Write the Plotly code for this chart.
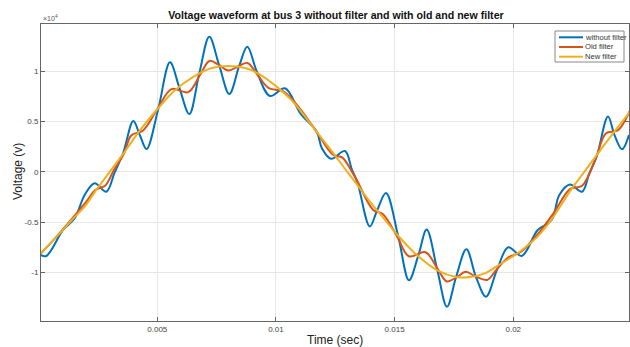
import plotly.graph_objects as go

# ---- data (time in s, voltage in units of 1e4 V as labelled on the axis) ----
t_without = [0.000087, 0.000323, 0.00103, 0.00152, 0.00194, 0.00236, 0.00285, 0.00320, 0.00356,
             0.00399, 0.00427, 0.004545, 0.00504, 0.005535, 0.005935, 0.006348, 0.00677, 0.007191,
             0.007612, 0.008034, 0.008455, 0.008792, 0.009201, 0.009749, 0.010381, 0.01103, 0.011716,
             0.01194, 0.012319, 0.012909, 0.01320, 0.013435, 0.013954, 0.01427, 0.014636, 0.015155,
             0.015605, 0.015997, 0.016351, 0.016798, 0.017207, 0.017586, 0.018024, 0.018429, 0.018850,
             0.019313, 0.019789, 0.020354, 0.02103, 0.021618, 0.02194, 0.022389, 0.022895, 0.02320,
             0.023514, 0.023991, 0.02427, 0.02458, 0.024875]
v_without = [-0.827, -0.837, -0.579, -0.463, -0.231, -0.115, -0.199, -0.01, 0.183,
             0.503, 0.36, 0.225, 0.623, 1.086, 0.831, 0.573, 0.977, 1.341,
             1.053, 0.772, 1.053, 1.241, 0.990, 0.752, 0.828, 0.579, 0.397,
             0.231, 0.128, 0.206, 0.02, -0.107, -0.544, -0.38, -0.212, -0.645,
             -1.078, -0.834, -0.575, -0.976, -1.341, -1.049, -0.770, -1.046, -1.241,
             -0.976, -0.750, -0.837, -0.579, -0.480, -0.231, -0.127, -0.199, -0.02,
             0.149, 0.548, 0.36, 0.222, 0.364]

t_old = [0.0001, 0.0007, 0.0014, 0.0020, 0.0024, 0.0028, 0.0032, 0.0036, 0.0039, 0.0044,
         0.0050, 0.0056, 0.0063, 0.0068, 0.0072, 0.0076, 0.0080, 0.0084, 0.0088, 0.0092,
         0.0097, 0.0103, 0.0110, 0.0117, 0.0124, 0.0128, 0.0132, 0.0134, 0.0141, 0.0145,
         0.0151, 0.0156, 0.0163, 0.0168, 0.0172, 0.0176, 0.0180, 0.0184, 0.0189, 0.0193,
         0.0198, 0.0203, 0.0210, 0.0217, 0.0224, 0.0229, 0.0235, 0.0239, 0.0244, 0.0249]
v_old = [-0.81, -0.66, -0.47, -0.30, -0.18, -0.14, 0.03, 0.18, 0.36, 0.41,
         0.62, 0.82, 0.79, 0.96, 1.10, 1.06, 1.005, 1.045, 1.08, 0.97,
         0.83, 0.80, 0.63, 0.40, 0.17, 0.14, 0.0, -0.08, -0.38, -0.42,
         -0.64, -0.84, -0.80, -0.96, -1.09, -1.05, -0.995, -1.04, -1.075, -0.97,
         -0.85, -0.80, -0.63, -0.41, -0.17, -0.14, 0.15, 0.38, 0.41, 0.60]

t_new = [0.0001, 0.0007, 0.0014, 0.0020, 0.0024, 0.0030, 0.0036, 0.0043, 0.0050, 0.0057,
         0.0065, 0.0073, 0.0080, 0.0087, 0.0093, 0.0100, 0.0107, 0.0117, 0.0124, 0.0130,
         0.0134, 0.0139, 0.0146, 0.0152, 0.0159, 0.0168, 0.0176, 0.0182, 0.0188, 0.0193,
         0.0203, 0.0210, 0.0216, 0.0224, 0.0230, 0.0235, 0.0243, 0.0249]
v_new = [-0.81, -0.66, -0.48, -0.33, -0.19, 0.0, 0.19, 0.42, 0.62, 0.80,
         0.94, 1.03, 1.05, 1.03, 0.97, 0.85, 0.70, 0.40, 0.19, 0.0,
         -0.12, -0.28, -0.48, -0.65, -0.82, -0.98, -1.045, -1.045, -1.01, -0.94,
         -0.79, -0.65, -0.48, -0.19, 0.0, 0.16, 0.41, 0.59]

series_names = ["without filter", "Old filter", "New filter"]
series_colors = ["#0072BD", "#D95319", "#EDB120"]

x_tickvals = [0.005, 0.01, 0.015, 0.02]
x_ticktext = ["0.005", "0.01", "0.015", "0.02"]
y_tickvals = [-1, -0.5, 0, 0.5, 1]
y_ticktext = ["-1", "-0.5", "0", "0.5", "1"]

FONT = "Liberation Sans, Arial, sans-serif"

# plot-area geometry in pixels (used only to place the hand-drawn legend / labels)
W, H = 630, 347
ML, MR, MT, MB = 41, 1, 24, 26
PW, PH = W - ML - MR, H - MT - MB


def px(x):
    return (x - ML) / PW


def py(y):
    return (H - MB - y) / PH


fig = go.Figure()
for tt, vv, name, col in zip([t_without, t_old, t_new], [v_without, v_old, v_new],
                             series_names, series_colors):
    fig.add_trace(go.Scatter(x=tt, y=vv, mode="lines", name=name, showlegend=False,
                             line=dict(color=col, width=2, shape="spline", smoothing=1.0)))

axis_common = dict(showline=True, linecolor="#666", linewidth=1, mirror="ticks",
                   ticks="inside", ticklen=4, tickcolor="#666", automargin=False,
                   showgrid=True, gridcolor="#e6e6e6", gridwidth=1, zeroline=False,
                   tickfont=dict(family=FONT, size=8, color="#444"))

shapes = [dict(type="rect", xref="paper", yref="paper",
               x0=px(555), x1=px(624), y0=py(62), y1=py(31),
               line=dict(color="#888", width=1), fillcolor="white", layer="above")]
annotations = [
    dict(text="Time (sec)", xref="paper", yref="paper", x=0.5, y=py(340),
         xanchor="center", yanchor="middle", showarrow=False,
         font=dict(family=FONT, size=12, color="#222")),
    dict(text="Voltage (v)", xref="paper", yref="paper", x=px(18), y=py(172),
         xanchor="center", yanchor="middle", textangle=-90, showarrow=False,
         font=dict(family=FONT, size=12, color="#222")),
    dict(text="×10<sup>4</sup>", xref="paper", yref="paper", x=0, y=1,
         xanchor="left", yanchor="bottom", showarrow=False,
         font=dict(family=FONT, size=7, color="#555")),
]
for i, (name, col) in enumerate(zip(series_names, series_colors)):
    yy = 37.3 + i * 9.7
    shapes.append(dict(type="line", xref="paper", yref="paper",
                       x0=px(559), x1=px(583), y0=py(yy), y1=py(yy),
                       line=dict(color=col, width=2), layer="above"))
    annotations.append(dict(text=name, xref="paper", yref="paper", x=px(583), y=py(yy),
                            xanchor="left", yanchor="middle", showarrow=False,
                            font=dict(family=FONT, size=7.6, color="#333")))

fig.update_layout(
    width=W, height=H,
    margin=dict(l=ML, r=MR, t=MT, b=MB, autoexpand=False),
    paper_bgcolor="white", plot_bgcolor="white",
    font=dict(family=FONT),
    title=dict(text="<b>Voltage waveform at bus 3 without filter and with old and new filter</b>",
               x=(336 / W), xanchor="center", y=1 - 15 / H, yanchor="middle",
               font=dict(family=FONT, size=10.6, color="#111")),
    xaxis=dict(range=[0.0001, 0.024876], tickvals=x_tickvals, ticktext=x_ticktext, **axis_common),
    yaxis=dict(range=[-1.483, 1.467], tickvals=y_tickvals, ticktext=y_ticktext, **axis_common),
    showlegend=False,
    hovermode=False,
    shapes=shapes,
    annotations=annotations,
)

fig.write_html("out.html", config={"displayModeBar": False, "staticPlot": True},
               post_script="document.body.style.margin='0';document.body.style.overflow='hidden';")
